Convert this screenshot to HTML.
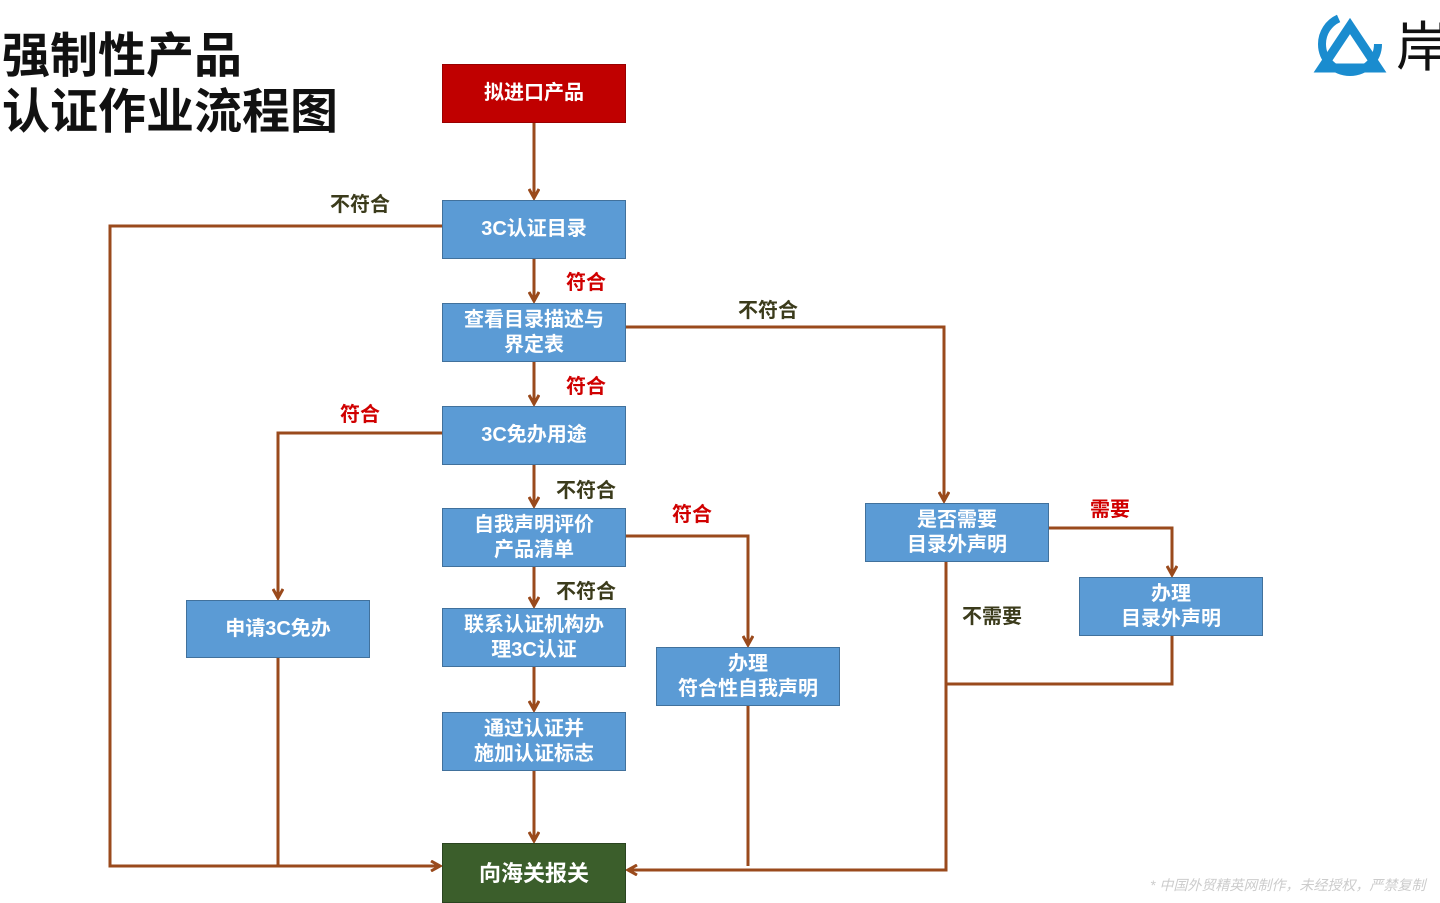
<!DOCTYPE html>
<html><head><meta charset="utf-8"><style>
body{margin:0;width:1440px;height:900px;position:relative;background:#fff;overflow:hidden;font-family:"Liberation Sans","Noto Sans CJK SC",sans-serif}
.b{position:absolute;width:184px;background:#5b9bd5;border:1px solid #41719c;color:#fff;font-size:20px;font-weight:bold;display:flex;align-items:center;justify-content:center;text-align:center;line-height:25px;box-sizing:border-box}
.l{position:absolute;font-size:20px;font-weight:bold;color:#3b3b1b}
.r{color:#d00000}
</style></head><body>
<div style="position:absolute;left:2px;top:29px;font-size:48px;font-weight:bold;line-height:56px;color:#111">强制性产品<br>认证作业流程图</div>
<svg style="position:absolute;left:1312px;top:8px" width="128" height="70">
<path d="M10 60 L38 18 L66 60 Z" fill="none" stroke="#1a8ccf" stroke-width="9"/>
<circle cx="38" cy="36" r="28" fill="none" stroke="#1a8ccf" stroke-width="8" stroke-dasharray="120 60"/>
<text x="84" y="58" font-size="54" font-family="Noto Sans CJK SC" fill="#111">岸</text></svg>
<svg style="position:absolute;left:0;top:0" width="1440" height="900">
<defs><marker id="a" markerWidth="12" markerHeight="12" refX="10" refY="6" orient="auto" markerUnits="userSpaceOnUse"><path d="M1 1 L10 6 L1 11" fill="none" stroke="#9a4a1c" stroke-width="3"/></marker></defs>
<g stroke="#9a4a1c" stroke-width="3" fill="none">
<path d="M534 123 V198" marker-end="url(#a)"/>
<path d="M534 259 V301" marker-end="url(#a)"/>
<path d="M534 362 V404" marker-end="url(#a)"/>
<path d="M534 465 V506" marker-end="url(#a)"/>
<path d="M534 567 V606" marker-end="url(#a)"/>
<path d="M534 667 V710" marker-end="url(#a)"/>
<path d="M534 771 V841" marker-end="url(#a)"/>
<path d="M442 226 H110 V866 H440" marker-end="url(#a)"/>
<path d="M626 327 H944 V501" marker-end="url(#a)"/>
<path d="M442 433 H278 V598" marker-end="url(#a)"/>
<path d="M278 658 V866"/>
<path d="M626 536 H748 V645" marker-end="url(#a)"/>
<path d="M748 706 V866"/>
<path d="M1049 528 H1172 V575" marker-end="url(#a)"/>
<path d="M1172 636 V684 H946"/>
<path d="M946 562 V870 H628" marker-end="url(#a)"/>
</g></svg>
<div class="b" style="left:442px;top:64px;height:59px;background:#c00000;border-color:#900">拟进口产品</div>
<div class="b" style="left:442px;top:200px;height:59px">3C认证目录</div>
<div class="b" style="left:442px;top:303px;height:59px">查看目录描述与<br>界定表</div>
<div class="b" style="left:442px;top:406px;height:59px">3C免办用途</div>
<div class="b" style="left:442px;top:508px;height:59px">自我声明评价<br>产品清单</div>
<div class="b" style="left:442px;top:608px;height:59px">联系认证机构办<br>理3C认证</div>
<div class="b" style="left:442px;top:712px;height:59px">通过认证并<br>施加认证标志</div>
<div class="b" style="left:442px;top:843px;height:60px;background:#3b5e2b;border-color:#2a4420;font-size:22px">向海关报关</div>
<div class="b" style="left:186px;top:600px;height:58px">申请3C免办</div>
<div class="b" style="left:656px;top:647px;height:59px">办理<br>符合性自我声明</div>
<div class="b" style="left:865px;top:503px;height:59px">是否需要<br>目录外声明</div>
<div class="b" style="left:1079px;top:577px;height:59px">办理<br>目录外声明</div>
<div class="l" style="left:330px;top:188px">不符合</div>
<div class="l" style="left:738px;top:294px">不符合</div>
<div class="l r" style="left:566px;top:266px">符合</div>
<div class="l r" style="left:566px;top:370px">符合</div>
<div class="l r" style="left:340px;top:398px">符合</div>
<div class="l" style="left:556px;top:474px">不符合</div>
<div class="l r" style="left:672px;top:498px">符合</div>
<div class="l" style="left:556px;top:575px">不符合</div>
<div class="l r" style="left:1090px;top:493px">需要</div>
<div class="l" style="left:962px;top:600px">不需要</div>
<div style="position:absolute;left:1150px;top:875px;font-size:14px;font-style:italic;color:#ccc;white-space:nowrap">* 中国外贸精英网制作，未经授权，严禁复制</div>
</body></html>
